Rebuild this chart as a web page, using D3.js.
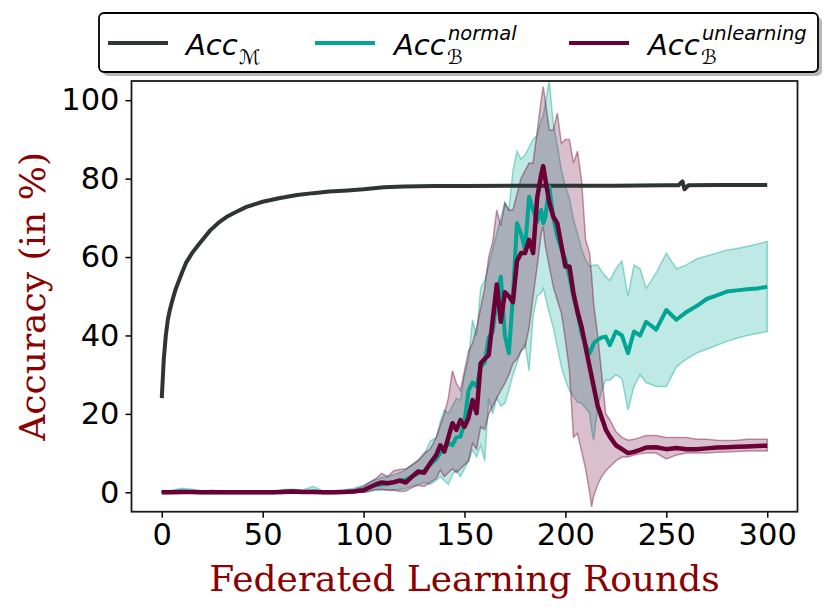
<!DOCTYPE html>
<html><head><meta charset="utf-8">
<script src="https://cdn.jsdelivr.net/npm/d3@7"></script>
<style>body{margin:0;background:#fff}svg{display:block}</style>
</head><body>
<svg id="c" width="830" height="614"></svg>
<script>
// ---- data ----
const mRounds = [0,1,2,3,4,5,7,10,12,15,18,20,24,28,32,36,42,50,58,67,75,83,92,100,110,120,135,150,175,200,225,250,256,258,259,261,275,300];
const mAcc    = [24,34,40,44,46.5,48.5,52,56,58.5,61,63,64.3,66.8,68.7,70.2,71.3,72.8,74.1,75,75.8,76.3,76.7,77,77.3,77.8,78,78.1,78.1,78.2,78.2,78.2,78.3,78.3,79.3,77.3,78.3,78.4,78.4];

const bRounds = [0,5,10,15,20,25,30,35,40,45,50,55,60,65,70,75,80,85,90,95,100,103,106,109,112,115,118,121,124,127,130,133,
  136,138,140,142,144,146,148,150,152,154,156,158,160,162,164,166,168,170,172,174,176,178,180,182,184,186,188,189,190,192,194,196,198,200,202,204,206,208,210,212,213,214,216,218,220,222,
  225,228,231,234,237,240,245,250,255,260,265,270,275,280,285,290,295,300];
const normalMean = [0,0.1,0.2,0.1,0,0.1,0,0,0,0,0,0,0.1,0.2,0.1,0.2,0,0,0.1,0.2,0.6,1.2,1.8,2,2.3,2.5,3,3.2,4,4.8,5.5,7,
  8.5,10,11,12.5,12,14,14.2,18,26,28,27,32,33,39.5,41,50,55,40,35.5,50,68.6,66,62,75.4,72,69,72,68.6,70,78,70,65.2,62,59.3,55,50,45.7,40.6,37.5,35.5,36.5,38,38.9,39.5,39.7,37.5,
  41,40,35.5,41,40,43.5,41.5,46.5,44,46,47.5,49.3,50.2,51.2,51.5,51.8,52,52.4];
const normalLow  = [0,0,0,0,0,0,0,0,0,0,0,0,0,0,0,0,0,0,0,0,0,0.2,0.5,0.6,0.6,0.5,0.8,1,1.5,2,2.5,2,
  3,4,3,2,4.5,5.7,4,6,8,10.8,9,12,8,24,20,24,22,22.7,26,30,33,36,38,31,45,50,50.8,52,50,45.7,42,37,32,28.6,26,24.4,23,22.7,21.5,20.2,16,13.3,21.8,26,28.7,28.6,
  30,29,21,27,30,28,27,27,32,34,35.5,36.5,37.5,38.5,39.3,40,40.5,41];
const normalHigh = [0.3,0.5,1,0.8,0.3,0.6,0.2,0.2,0.3,0.2,0.3,0.2,0.7,0.8,0.6,1.5,0.3,0.3,0.6,1,1.8,2.5,3.2,3.8,4,4.5,5,5.8,7,8,9.5,13,
  14,18,21,20,22,24,23.5,30,34,44,40,52,54,58,62,66,70,74,72,82,87,85,86,88,90,91,95,96,99,105,94,88.5,82.2,78,75,69.5,66,62,59.3,57.6,57.8,58,58,56.3,55,54,
  57,59,50,58,57,52,56,61,57,58,59.5,60.3,61,61.8,62.2,62.7,63.3,64];
const unlearnMean = [0,0,0.1,0.1,0,0,0,0,0,0,0,0,0.1,0.2,0.1,0.1,0,0,0.1,0.2,0.5,1.3,2,2.5,2.3,2.6,3,2.5,4,5.3,5,7.4,
  9.5,12,10.4,14,17.6,15.9,18.4,16.7,19,23.5,20.2,32.9,34,35,44,53,43.5,51,50,48.5,59,61,61,64.4,61,75,81,83.2,80,74,70.3,68.6,63,57.6,57.6,50.8,46,42.2,37.1,32,29.5,27,22,19,16,14.2,
  12,11,10,10.3,10.8,11.4,11.5,11,11.3,11,11,11.2,11.4,11.5,11.6,11.7,11.8,11.9];
const unlearnLow  = [0,0,0,0,0,0,0,0,0,0,0,0,0,0,0,0,0,0,0,0,0,0.3,0.7,0.8,0.5,0.6,0.2,0.3,1.2,1.8,1.5,2.5,
  3.5,5.7,4,5,6,5,6,7,8,12.5,11,16.7,16,20,22,24,26,27.8,30,32.9,34,36,37,42,50,57.6,66,67.8,63,57.6,52.4,49,45.7,38.9,31,14,15,10.5,6,0,-3.7,-1,2,4,5.5,6.5,
  8,9,9,9.5,9.8,10,10,8.5,9.5,10,10,10,10.2,10.3,10.4,10.5,10.5,10.5];
const unlearnHigh = [0.2,0.3,0.4,0.4,0.2,0.3,0.2,0.2,0.2,0.2,0.2,0.2,0.5,0.6,0.4,0.3,0.2,0.2,0.4,0.6,1.5,2.6,3.5,4.8,4,5.5,5.8,6,7,8.2,10,11,
  14,17,20,24,31,27.8,26,31,36,38,42,47,52,60,64,72,68,73.7,72,72,76,80,82,84,84,92,100,103.5,100,92.4,92.4,96.7,89,90,90,84,87,79.7,64.4,61,55,48,40,30,20,18.5,
  15.5,14,13.3,13.5,14,14.5,14.5,14,14,14,13.5,13.5,13.3,13.2,13.3,13.5,13.5,13.5];

const xTicks = [0,50,100,150,200,250,300];
const yTicks = [0,20,40,60,80,100];
const labels = {x:"Federated Learning Rounds", y:"Accuracy (in %)"};

// ---- chart ----
const svg = d3.select("#c");
const L=131.5, R=797.5, T=81, B=511.7;
const x = d3.scaleLinear().domain([-15,315]).range([L,R]);
const y = d3.scaleLinear().domain([-4.95,104.9]).range([B,T]);

const cBlack="#2e3533", cTeal="#00a693", cMaroon="#6a0035";

svg.append("rect").attr("width",830).attr("height",614).attr("fill","#fff");
const g = svg.append("g");
g.append("clipPath").attr("id","clip").append("rect").attr("x",L).attr("y",T).attr("width",R-L).attr("height",B-T);
const pg = g.append("g").attr("clip-path","url(#clip)");

const bData = bRounds.map((r,i)=>({r, nm:normalMean[i], nl:normalLow[i], nh:normalHigh[i], um:unlearnMean[i], ul:unlearnLow[i], uh:unlearnHigh[i]}));
const mData = mRounds.map((r,i)=>({r, v:mAcc[i]}));

function band(lo,hi,col){
  pg.append("path").datum(bData)
    .attr("d", d3.area().x(d=>x(d.r)).y0(d=>y(d[lo])).y1(d=>y(d[hi])))
    .attr("fill",col).attr("fill-opacity",0.25)
    .attr("stroke",col).attr("stroke-opacity",0.4).attr("stroke-width",1.5);
}
band("nl","nh",cTeal);
band("ul","uh",cMaroon);

pg.append("path").datum(mData)
  .attr("d", d3.line().x(d=>x(d.r)).y(d=>y(d.v)))
  .attr("fill","none").attr("stroke",cBlack).attr("stroke-width",4).attr("stroke-linejoin","round");
pg.append("path").datum(bData)
  .attr("d", d3.line().x(d=>x(d.r)).y(d=>y(d.nm)))
  .attr("fill","none").attr("stroke",cTeal).attr("stroke-width",4).attr("stroke-linejoin","round");
pg.append("path").datum(bData)
  .attr("d", d3.line().x(d=>x(d.r)).y(d=>y(d.um)))
  .attr("fill","none").attr("stroke",cMaroon).attr("stroke-width",4.5).attr("stroke-linejoin","round");

// axes
const xa = g.append("g").attr("transform",`translate(0,${B})`)
  .call(d3.axisBottom(x).tickValues(xTicks).tickSize(6).tickPadding(6).tickFormat(d3.format("d")));
const ya = g.append("g").attr("transform",`translate(${L},0)`)
  .call(d3.axisLeft(y).tickValues(yTicks).tickSize(6).tickPadding(6).tickFormat(d3.format("d")));
[xa,ya].forEach(a=>{
  a.select(".domain").remove();
  a.selectAll(".tick line").attr("stroke","#000").attr("stroke-width",1.5);
  a.selectAll(".tick text").attr("fill","#000").style("font-family","DejaVu Sans").style("font-size","30.5px");
});
g.append("rect").attr("x",L).attr("y",T).attr("width",R-L).attr("height",B-T)
  .attr("fill","none").attr("stroke","#1a1a1a").attr("stroke-width",1.8);

g.append("text").attr("x",(L+R)/2).attr("y",591).attr("text-anchor","middle")
  .style("font-family","DejaVu Serif").style("font-size","36px").attr("fill","#8b0000").text(labels.x);
g.append("text").attr("transform",`translate(45,${(T+B)/2}) rotate(-90)`).attr("text-anchor","middle")
  .style("font-family","DejaVu Serif").style("font-size","36px").attr("fill","#8b0000").text(labels.y);

// legend
const lg = svg.append("g");
lg.append("rect").attr("x",103).attr("y",17).attr("width",719).attr("height",59).attr("rx",5).attr("fill","#888").attr("opacity",0.6);
lg.append("rect").attr("x",99).attr("y",13).attr("width",719).attr("height",59).attr("rx",5).attr("fill","#fff").attr("stroke","#000").attr("stroke-width",1.8);
const items = [
  {col:cBlack, x0:108, tx:186, sub:"ℳ", sup:null},
  {col:cTeal, x0:315, tx:394, sub:"ℬ", sup:"normal"},
  {col:cMaroon, x0:569, tx:648, sub:"ℬ", sup:"unlearning"}
];
items.forEach(it=>{
  lg.append("line").attr("x1",it.x0).attr("x2",it.x0+60).attr("y1",43).attr("y2",43).attr("stroke",it.col).attr("stroke-width",4);
  const t = lg.append("text").attr("x",it.tx).attr("y",55).style("font-family","DejaVu Sans").style("font-size","29px").attr("fill","#000");
  t.append("tspan").style("font-style","italic").text("Acc");
  const sx = it.tx + 53;
  t.append("tspan").attr("x",sx).attr("y",64).style("font-size","20px").text(it.sub);
  if(it.sup) t.append("tspan").attr("x",sx+1).attr("y",40).style("font-style","italic").style("font-size","19.5px").text(it.sup);
});
</script>
</body></html>
